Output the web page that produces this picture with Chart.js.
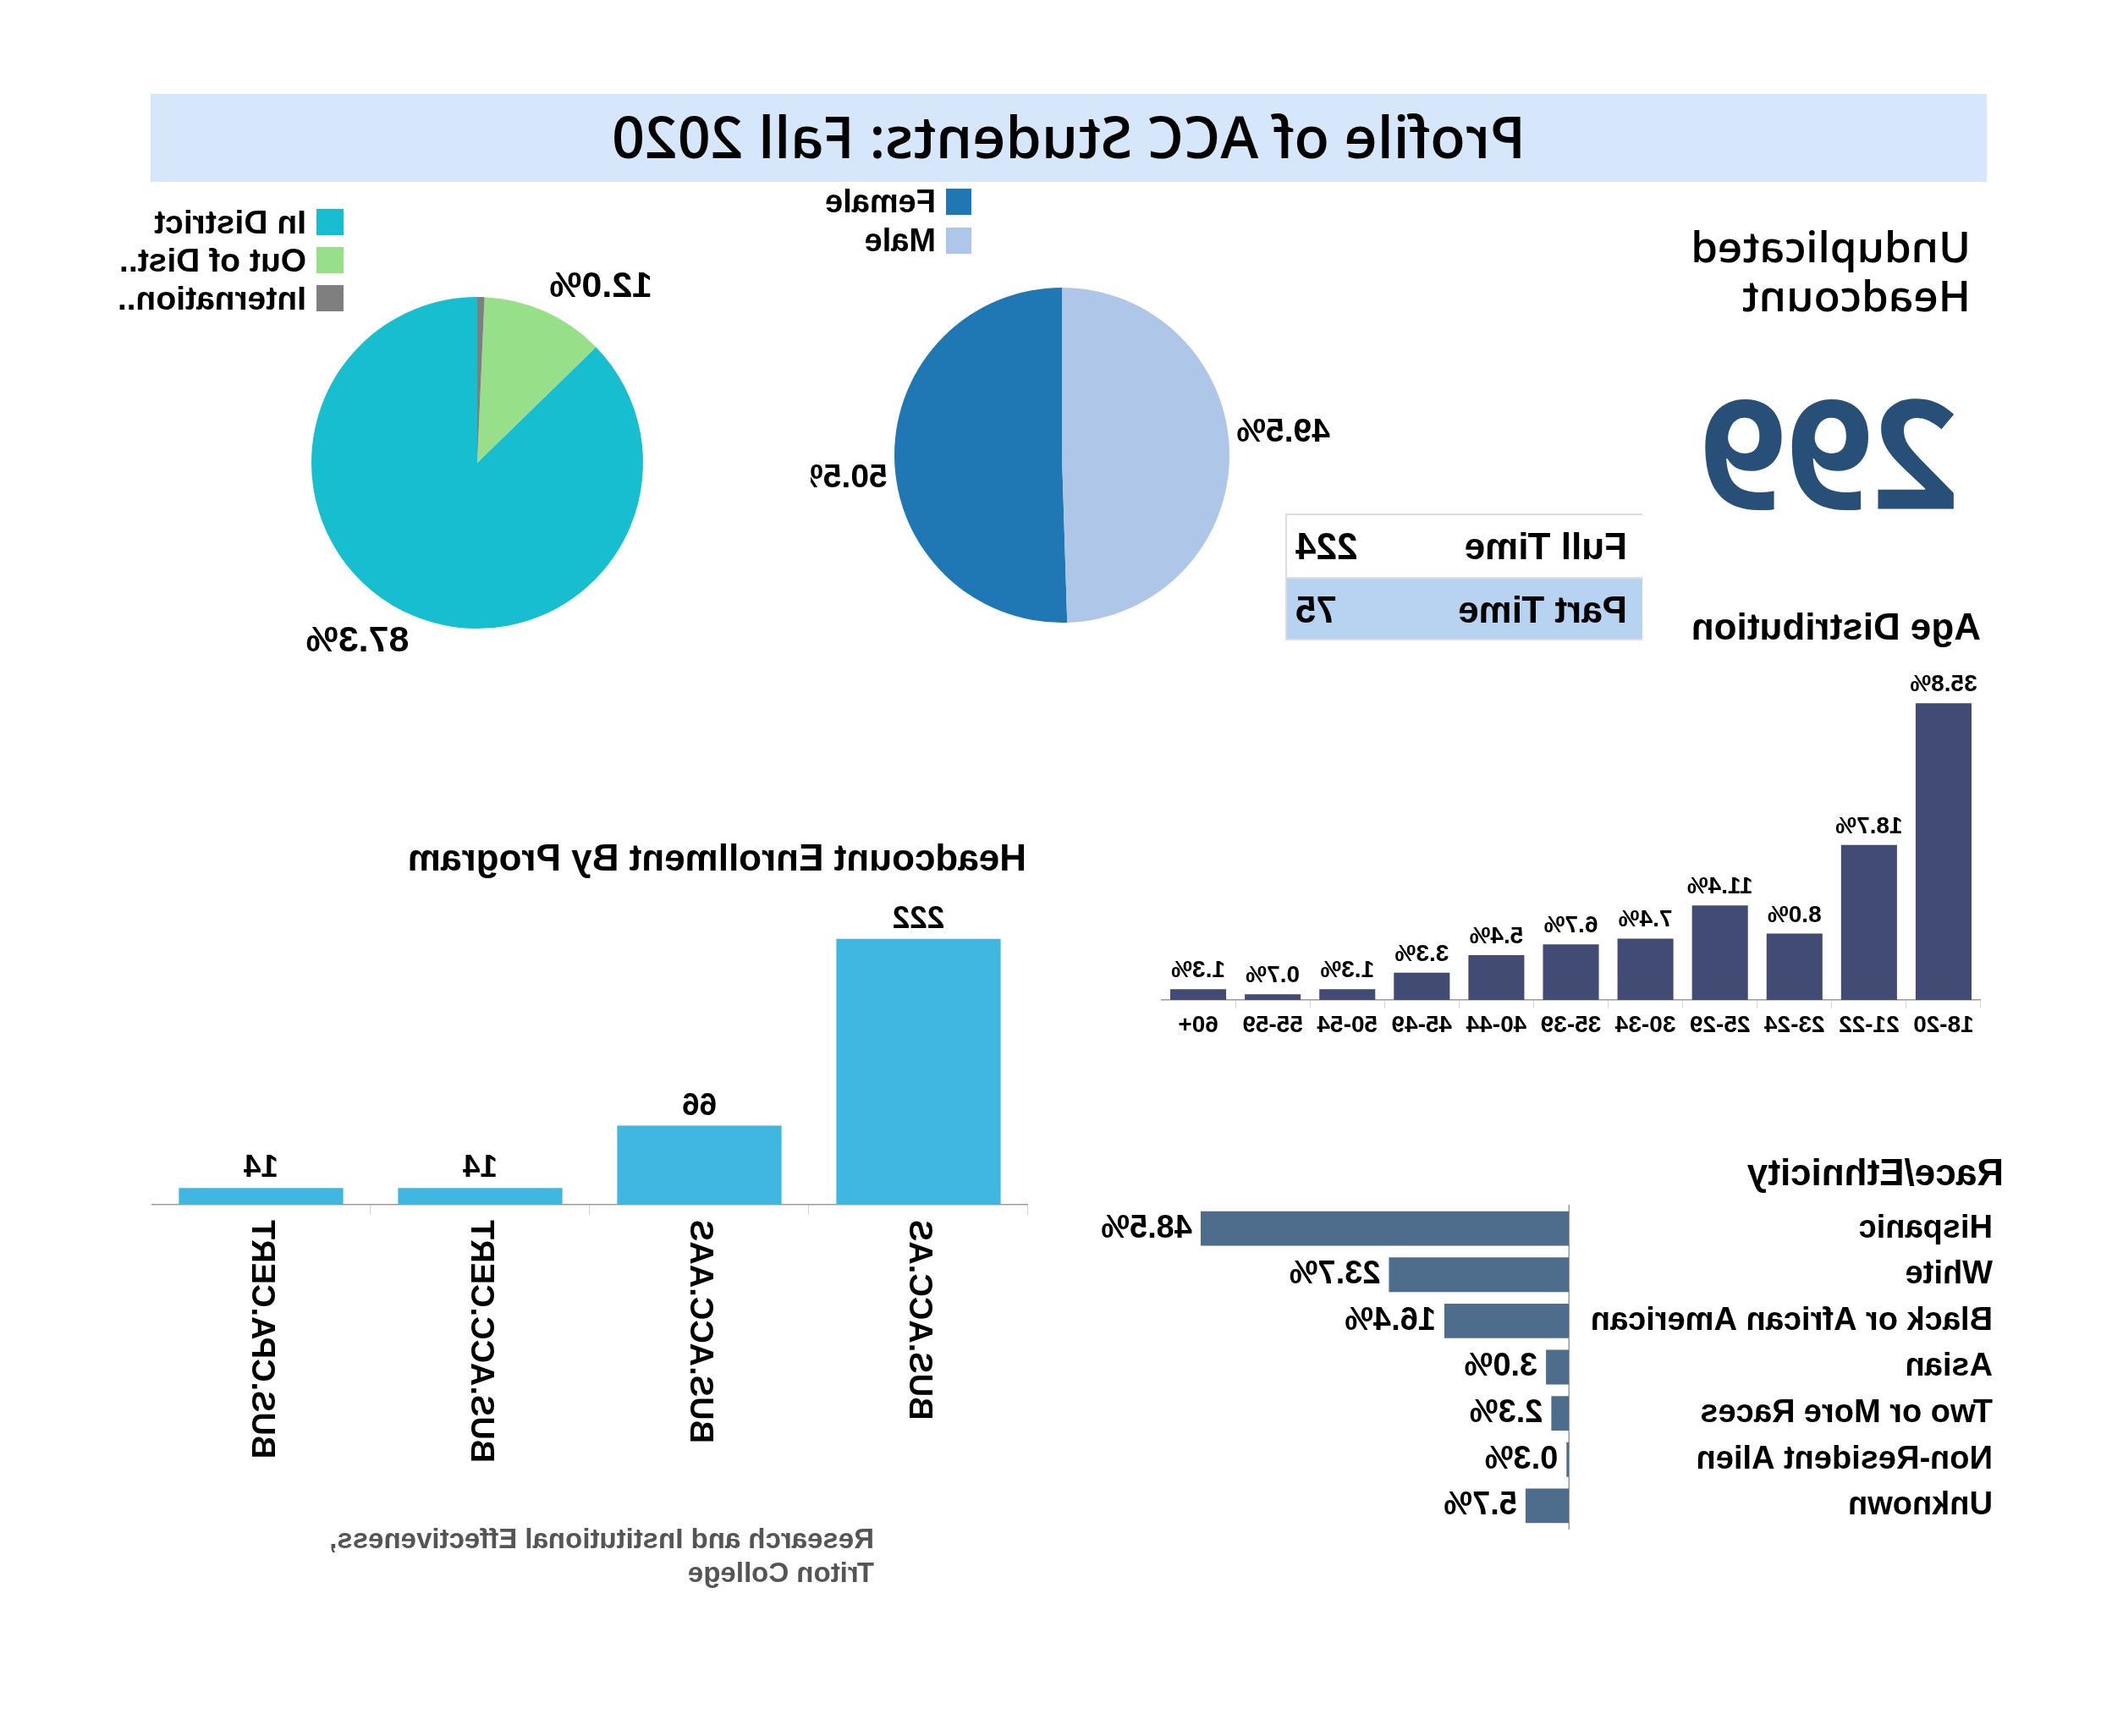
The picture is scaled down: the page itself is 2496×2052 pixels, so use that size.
<!DOCTYPE html>
<html>
<head>
<meta charset="utf-8">
<title>Profile of ACC Students: Fall 2020</title>
<script src="https://cdn.jsdelivr.net/npm/chart.js@4.4.1/dist/chart.umd.min.js"></script>
<style>
  html, body { margin: 0; padding: 0; background: #fff; overflow: hidden; }
  #page { position: relative; width: 2496px; height: 2052px; transform: scaleX(-1); overflow: hidden;
          font-family: "Liberation Sans", Arial, sans-serif; color: #000; }
  .abs { position: absolute; white-space: nowrap; }
  canvas { position: absolute; }
  .ttl { font-weight: bold; font-size: 44px; line-height: 44px; }
  .legend { position: absolute; font-weight: bold; }
  .legend .row { display: flex; align-items: center; }
  .legend .box { margin-right: 12px; flex: none; }
  .cell { position: absolute; box-sizing: border-box; font-weight: bold; font-size: 44px; line-height: 73px; }
</style>
</head>
<body>
<div id="page">
  <div class="abs" style="left:148px;top:111px;width:2170px;height:104px;background:#d6e7fb;"></div>
  <div class="abs" id="mainTitle" style="left:148px;top:127px;width:2170px;text-align:center;font-family:'Open Sans',sans-serif;font-weight:600;font-size:68px;line-height:67px;"></div>

  <div class="legend" id="legDistrict" style="left:2090px;top:240px;font-size:39px;"></div>
  <div class="legend" id="legGender" style="left:1348px;top:215px;font-size:38px;"></div>

  <div class="abs" style="left:167px;top:261px;font-family:'Open Sans',sans-serif;font-weight:600;font-size:51px;line-height:58px;">Unduplicated<br>Headcount</div>
  <div class="abs" id="bigNum" style="left:180px;top:443px;font-family:'Open Sans',sans-serif;font-weight:700;font-size:179px;line-height:180px;color:#284f77;"></div>

  <div id="statusTable"></div>

  <div class="abs ttl" style="left:155px;top:719px;">Age Distribution</div>
  <div class="abs ttl" style="left:1283px;top:992px;">Headcount Enrollment By Program</div>
  <div class="abs ttl" style="left:128px;top:1364px;">Race/Ethnicity</div>
  <div class="abs" style="left:1463px;top:1799px;font-weight:bold;font-size:33px;line-height:40px;color:#555;">Research and Institutional Effectiveness,<br>Triton College</div>

  <canvas id="districtPie" width="564" height="534" style="left:1650px;top:280px;"></canvas>
  <canvas id="genderPie" width="638" height="436" style="left:900px;top:320px;"></canvas>
  <canvas id="ageBar" width="969" height="450" style="left:155px;top:790px;"></canvas>
  <canvas id="programBar" width="1036" height="704" style="left:1281px;top:1056px;"></canvas>
  <canvas id="raceBar" width="1084" height="428" style="left:141px;top:1402px;"></canvas>
</div>

<script>
const titleText = 'Profile of ACC Students: Fall 2020';

const districtLabels = ['In District', 'Out of Dist..', 'Internation..'];
const districtPct = [87.3, 12.0, 0.7];
const districtColors = ['#17becf', '#98df8a', '#7f7f7f'];

const genderLabels = ['Female', 'Male'];
const genderPct = [50.5, 49.5];
const genderColors = ['#1f77b4', '#aec7e8'];

const headcount = 299;
const statusLabels = ['Full Time', 'Part Time'];
const statusCounts = [224, 75];

const ageLabels = ['18-20', '21-22', '23-24', '25-29', '30-34', '35-39', '40-44', '45-49', '50-54', '55-59', '60+'];
const agePct = [35.8, 18.7, 8.0, 11.4, 7.4, 6.7, 5.4, 3.3, 1.3, 0.7, 1.3];

const programLabels = ['BUS.ACC.AS', 'BUS.ACC.AAS', 'BUS.ACC.CERT', 'BUS.CPA.CERT'];
const programCounts = [222, 66, 14, 14];

const raceLabels = ['Hispanic', 'White', 'Black or African American', 'Asian', 'Two or More Races', 'Non-Resident Alien', 'Unknown'];
const racePct = [48.5, 23.7, 16.4, 3.0, 2.3, 0.3, 5.7];

const FAM = '"Liberation Sans", Arial, sans-serif';
const pct = v => v.toFixed(1) + '%';

document.getElementById('mainTitle').textContent = titleText;
document.getElementById('bigNum').textContent = headcount;

function legend(id, labels, colors, rowH, box) {
  const el = document.getElementById(id);
  labels.forEach((l, i) => {
    const r = document.createElement('div');
    r.className = 'row';
    r.style.height = rowH + 'px';
    r.innerHTML = '<div class="box" style="width:' + box[0] + 'px;height:' + box[1] + 'px;background:' + colors[i] + '"></div><span>' + l + '</span>';
    el.appendChild(r);
  });
}
legend('legDistrict', districtLabels, districtColors, 45, [32, 31]);
legend('legGender', genderLabels, genderColors, 46, [30, 31]);

// full/part time table
(function () {
  const t = document.getElementById('statusTable');
  let html = '';
  statusLabels.forEach((l, i) => {
    const top = 607 + i * 75;
    const bg = i === 1 ? '#b8d3f2' : '#fff';
    const bb = i === statusLabels.length - 1 ? 'border-bottom:2px solid #ddd;' : '';
    html += '<div class="cell" style="left:555px;top:' + top + 'px;width:240px;height:75px;background:' + bg + ';border-top:2px solid #ddd;border-right:2px solid #ddd;' + bb + 'padding-left:18px;">' + l + '</div>';
    html += '<div class="cell" style="left:793px;top:' + top + 'px;width:184px;height:75px;background:' + bg + ';border-top:2px solid #ddd;border-right:2px solid #ddd;' + bb + 'text-align:right;padding-right:10px;">' + statusCounts[i] + '</div>';
  });
  t.innerHTML = html;
})();

const valueLabels = {
  id: 'valueLabels',
  afterDatasetsDraw(chart, args, o) {
    if (!o || !o.mode) return;
    const ctx = chart.ctx;
    const meta = chart.getDatasetMeta(0);
    const vals = chart.data.datasets[0].data;
    ctx.save();
    ctx.font = o.font;
    ctx.fillStyle = '#000';
    meta.data.forEach((el, i) => {
      const v = vals[i];
      if (o.minShow && v < o.minShow) return;
      const txt = o.fmt(v);
      if (o.mode === 'pie') {
        const p = el.getProps(['x', 'y', 'startAngle', 'endAngle'], true);
        const a = (p.startAngle + p.endAngle) / 2 + o.shift * Math.PI / 180;
        ctx.textAlign = 'center'; ctx.textBaseline = 'middle';
        ctx.fillText(txt, p.x + Math.cos(a) * o.dist, p.y + Math.sin(a) * o.dist);
      } else if (o.mode === 'top') {
        ctx.textAlign = 'center'; ctx.textBaseline = 'alphabetic';
        ctx.fillText(txt, el.x, el.y - o.gap);
      } else {
        ctx.textAlign = 'left'; ctx.textBaseline = 'middle';
        ctx.fillText(txt, el.x + o.gap, el.y);
      }
    });
    ctx.restore();
  }
};
Chart.register(valueLabels);
Chart.defaults.font.family = FAM;
Chart.defaults.color = '#000';

function pie(id, labels, data, colors, radius, pad, lbl) {
  return new Chart(document.getElementById(id), {
    type: 'pie',
    data: { labels, datasets: [{ data, backgroundColor: colors, borderWidth: 0, radius }] },
    options: {
      responsive: false, animation: false,
      layout: { padding: pad },
      plugins: { legend: { display: false }, tooltip: { enabled: false }, valueLabels: lbl }
    }
  });
}
pie('districtPie', districtLabels, districtPct, districtColors, 196, 0,
  { mode: 'pie', font: 'bold 43px ' + FAM, fmt: pct, dist: 254, shift: -11, minShow: 5 });
pie('genderPie', genderLabels, genderPct, genderColors, 198, { left: 44 },
  { mode: 'pie', font: 'bold 39px ' + FAM, fmt: pct, dist: 263, shift: 5 });

function fixHeight(h) { return s => { s.height = h; }; }
const baseBorder = { display: true, dash: [3, 3], color: '#9a9a9a', width: 1.5 };

new Chart(document.getElementById('ageBar'), {
  type: 'bar',
  data: { labels: ageLabels, datasets: [{ data: agePct, backgroundColor: '#424b73', barPercentage: 0.75, categoryPercentage: 1 }] },
  options: {
    responsive: false, animation: false,
    layout: { padding: 0 },
    plugins: { legend: { display: false }, tooltip: { enabled: false },
      valueLabels: { mode: 'top', font: 'bold 28px ' + FAM, fmt: pct, gap: 14 } },
    scales: {
      x: {
        afterFit: fixHeight(58),
        grid: { display: true, offset: true, drawOnChartArea: false, tickLength: 10, color: '#d4d4d4' },
        border: baseBorder,
        ticks: { font: { size: 28, weight: 'bold' }, padding: 3, color: '#000', maxRotation: 0, autoSkip: false }
      },
      y: { display: false, min: 0, max: 40 }
    }
  }
});

new Chart(document.getElementById('programBar'), {
  type: 'bar',
  data: { labels: programLabels, datasets: [{ data: programCounts, backgroundColor: '#40b7e1', barPercentage: 0.75, categoryPercentage: 1 }] },
  options: {
    responsive: false, animation: false,
    layout: { padding: 0 },
    plugins: { legend: { display: false }, tooltip: { enabled: false },
      valueLabels: { mode: 'top', font: 'bold 37px ' + FAM, fmt: v => String(v), gap: 13 } },
    scales: {
      x: {
        afterFit: fixHeight(336),
        grid: { display: true, offset: true, drawOnChartArea: false, tickLength: 12, color: '#d4d4d4' },
        border: baseBorder,
        ticks: { font: { size: 38, weight: 'bold' }, padding: 6, color: '#000', minRotation: 90, maxRotation: 90, autoSkip: false }
      },
      y: { display: false, min: 0, max: 260 }
    }
  }
});

new Chart(document.getElementById('raceBar'), {
  type: 'bar',
  data: { labels: raceLabels, datasets: [{ data: racePct, backgroundColor: '#4e6d8c', barPercentage: 0.75, categoryPercentage: 1 }] },
  options: {
    indexAxis: 'y',
    responsive: false, animation: false,
    layout: { padding: 0 },
    plugins: { legend: { display: false }, tooltip: { enabled: false },
      valueLabels: { mode: 'right', font: 'bold 38px ' + FAM, fmt: pct, gap: 10 } },
    scales: {
      x: { display: false, min: 0, max: 65 },
      y: {
        afterFit: s => { s.width = 501; },
        grid: { display: false },
        border: baseBorder,
        ticks: { font: { size: 38, weight: 'bold' }, padding: 0, crossAlign: 'far', color: '#000', autoSkip: false }
      }
    }
  }
});
</script>
</body>
</html>
